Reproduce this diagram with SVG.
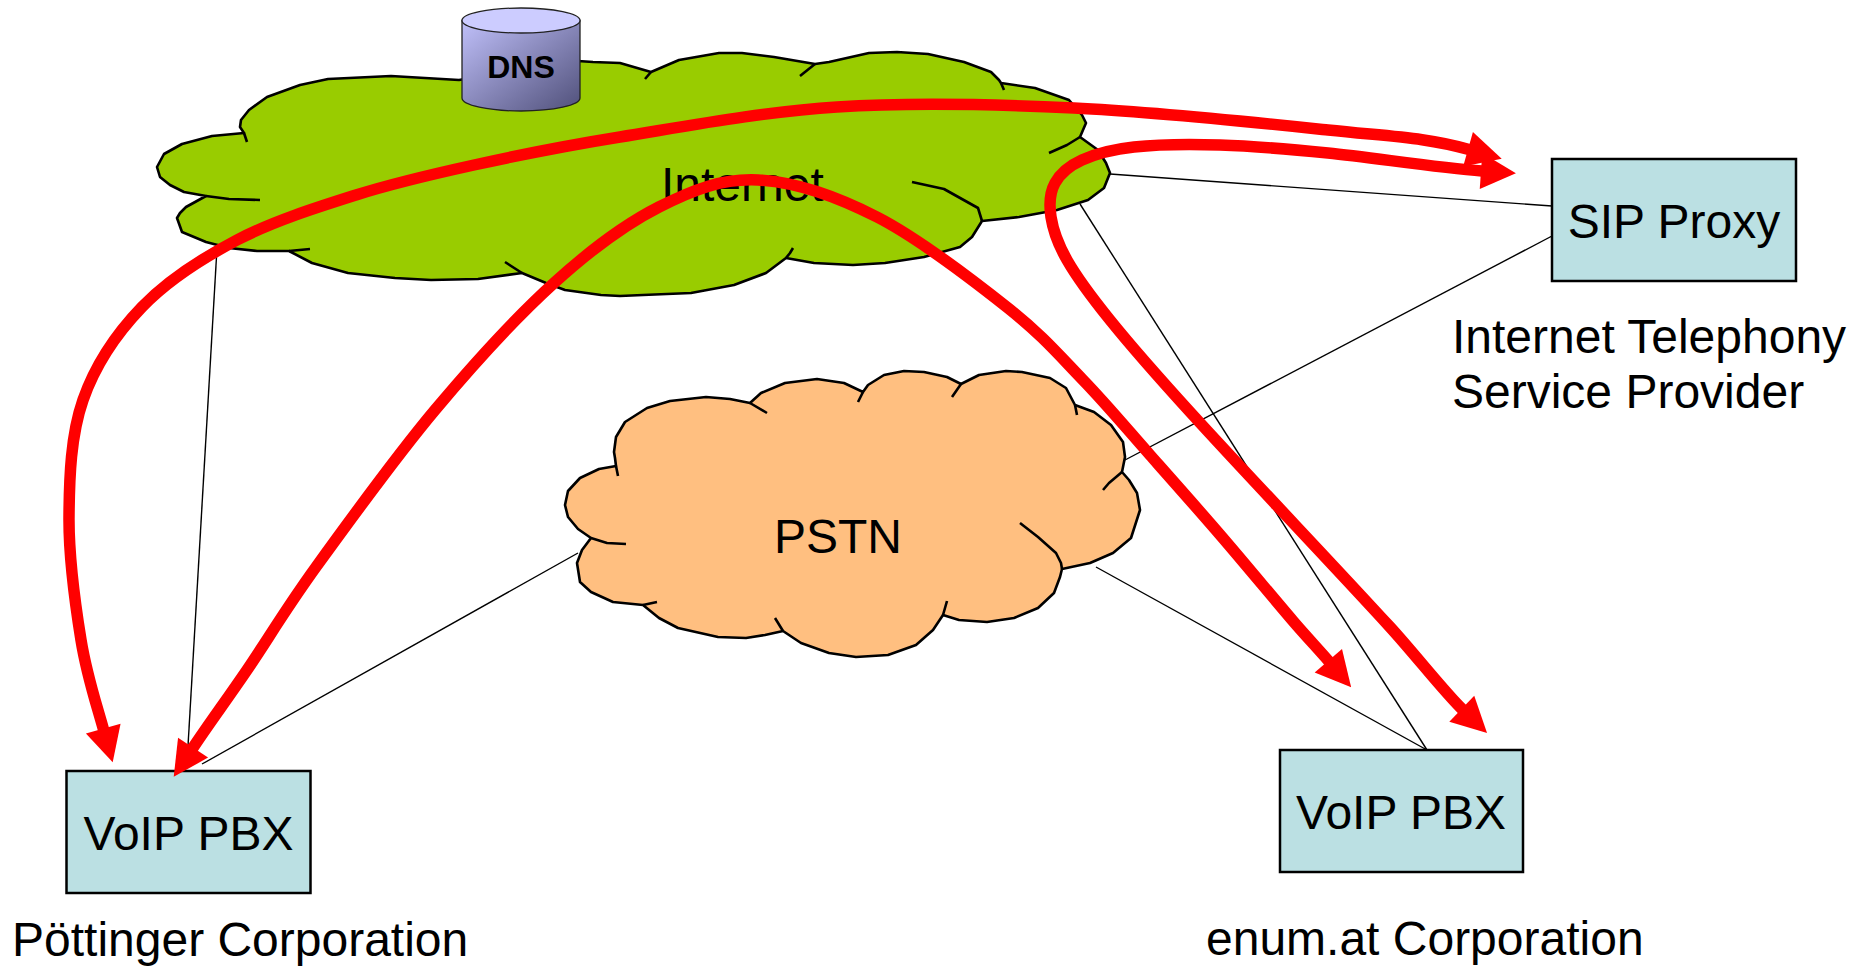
<svg xmlns="http://www.w3.org/2000/svg" width="1867" height="967" viewBox="0 0 1867 967">
<style>
.cloud{stroke:#000;stroke-width:2.6;stroke-linejoin:round}
.tail{fill:none;stroke:#000;stroke-width:2.6;stroke-linejoin:round;stroke-linecap:butt}
.box{fill:#BBE0E3;stroke:#000;stroke-width:2.5}
.lbl{font-family:"Liberation Sans",Arial,sans-serif;font-size:48px;fill:#000}
.mid{text-anchor:middle}
.link{stroke:#000;stroke-width:1.4;fill:none}
.flow{stroke:#FF0000;stroke-width:11.5;fill:none;stroke-linejoin:round}
</style>
<defs>
<linearGradient id="dnsBody" x1="0" y1="0" x2="1" y2="1">
<stop offset="0" stop-color="#C0C0FA"/>
<stop offset="1" stop-color="#50507A"/>
</linearGradient>
<marker id="headEnd" markerUnits="userSpaceOnUse" viewBox="-2 -20 40 40" markerWidth="40" markerHeight="40" refX="1" refY="0" orient="auto">
<path d="M0,-18 L35,0 L0,18 Z" fill="#FF0000"/>
</marker>
<marker id="headStart" markerUnits="userSpaceOnUse" viewBox="-38 -20 40 40" markerWidth="40" markerHeight="40" refX="-1" refY="0" orient="auto">
<path d="M0,-18 L-35,0 L0,18 Z" fill="#FF0000"/>
</marker>
</defs>
<rect width="1867" height="967" fill="#FFFFFF"/>

<g id="internet">
<path class="cloud" fill="#99CC00" d="M157,167 L164,154 L182,144 L212,136 L244,133 L240,127 L241,120 L249,110 L267,97 L300,85 L328,79 L391,76 L459,80 L520,70 L578,61 L593,62 L620,63 L651,72 L679,60 L719,53 L742,53 L774,57 L815,64 L829,62 L869,53 L897,52 L928,54 L964,62 L991,72 L999,80 L1001,83 L1035,88 L1069,100 L1082,115 L1086,123 L1080,137 L1098,150 L1106,163 L1110,173 L1104,188 L1088,200 L1057,210 L1019,217 L982,221 L972,237 L960,247 L924,257 L885,263 L853,265 L814,263 L786,258 L766,273 L734,285 L691,293 L643,295 L620,296 L601,295 L565,290 L546,283 L522,273 L478,279 L431,280 L395,278 L348,273 L312,263 L289,251 L257,251 L229,248 L206,242 L182,232 L177,218 L180,213 L186,207 L206,196 L184,192 L170,185 L160,177 Z"/>
<path class="tail" d="M244,133 L247,142 M206,196 L229,199 L260,200 M289,251 L310,249 M522,273 L505,262 M786,258 L790,253 L793,248 M982,221 L978,208 L944,189 L912,182 M1080,137 L1067,145 L1049,153 M1001,83 L1004,90 M815,64 L800,76 M651,72 L645,79"/>
<text class="lbl" x="661" y="201">Internet</text>
</g>

<g id="dns">
<path d="M462,20.5 L462,98 A59,13 0 0 0 580,98 L580,20.5 Z" fill="url(#dnsBody)" stroke="#222" stroke-width="1.3"/>
<ellipse cx="521" cy="20.5" rx="59" ry="12.5" fill="#CCCCFF" stroke="#222" stroke-width="1.3"/>
<text x="521" y="78" text-anchor="middle" font-family="'Liberation Sans',Arial,sans-serif" font-size="32" font-weight="bold" fill="#000">DNS</text>
</g>

<g id="pstn">
<path class="cloud" fill="#FFBF80" d="M591,538 L578,529 L568,517 L565,505 L568,491 L580,478 L599,469 L616,466 L615,458 L614,452 L616,437 L625,422 L647,408 L670,401 L706,397 L730,399 L750,403 L761,393 L785,383 L817,379 L844,383 L863,392 L868,385 L884,375 L904,371 L924,372 L947,377 L961,384 L979,375 L1006,371 L1022,372 L1050,378 L1066,388 L1075,405 L1094,412 L1111,425 L1123,442 L1125,457 L1122,472 L1129,480 L1137,493 L1140,510 L1131,538 L1113,553 L1090,563 L1062,569 L1060,577 L1054,593 L1038,608 L1014,618 L987,622 L959,620 L943,615 L933,630 L916,645 L888,655 L856,657 L829,653 L801,643 L783,631 L765,635 L746,638 L718,637 L678,628 L659,618 L643,605 L613,602 L591,592 L580,582 L577,563 L582,550 Z"/>
<path class="tail" d="M616,466 L618,476 M591,538 L607,543 L626,544 M643,605 L657,602 M783,631 L775,618 M943,615 L947,601 M1062,569 L1061,563 L1056,553 L1038,537 L1020,523 M1122,472 L1109,483 L1103,490 M1075,405 L1077,415 M961,384 L952,397 M863,392 L858,402 M750,403 L767,413"/>
<text class="lbl mid" x="838" y="553">PSTN</text>
</g>

<g id="sip-proxy">
<rect class="box" x="1552" y="159" width="244" height="122"/>
<text class="lbl mid" x="1674" y="238">SIP Proxy</text>
<text class="lbl" x="1452" y="353">Internet Telephony</text>
<text class="lbl" x="1452" y="408">Service Provider</text>
</g>

<g id="pbx-poettinger">
<rect class="box" x="66.5" y="771" width="244" height="122"/>
<text class="lbl mid" x="188.5" y="850">VoIP PBX</text>
<text class="lbl" x="12" y="956">Pöttinger Corporation</text>
</g>

<g id="pbx-enum">
<rect class="box" x="1280" y="750" width="243" height="122"/>
<text class="lbl mid" x="1401" y="829">VoIP PBX</text>
<text class="lbl" x="1206" y="955">enum.at Corporation</text>
</g>

<g id="connectors">
<line class="link" x1="217" y1="248" x2="188" y2="746"/>
<line class="link" x1="578" y1="553" x2="202" y2="764"/>
<line class="link" x1="1110" y1="174" x2="1552" y2="206"/>
<line class="link" x1="1125" y1="460" x2="1552" y2="236"/>
<line class="link" x1="1080" y1="204" x2="1427" y2="750"/>
<line class="link" x1="1096" y1="567" x2="1427" y2="750"/>
<path class="flow" marker-start="url(#headStart)" marker-end="url(#headEnd)" d="M103.5,729.5 C94.5,697.5 86.75,675.4 81,640 C75.25,604.6 68.7,557 69,517 C69.3,477 70.8,435 83,400 C95.2,365 116.3,333.7 142,307 C167.7,280.3 201.3,258.7 237,240 C272.7,221.3 316.5,207.5 356,195 C395.5,182.5 430,174.7 474,165 C518,155.3 559.5,146.7 620,137 C680.5,127.3 761.3,111.8 837,107 C912.7,102.2 992.2,104.2 1074,108 C1155.8,111.8 1262.2,123.1 1328,130 C1393.8,136.9 1425.8,137.3 1469,149.5"/>
<path class="flow" marker-start="url(#headStart)" marker-end="url(#headEnd)" d="M192.5,748.5 C209,723.6 226.4,700.25 247,670 C267.6,639.75 284.7,610.3 316,567 C347.3,523.7 395.3,457.3 435,410 C474.7,362.7 516.7,316.8 554,283 C591.3,249.2 625,224.2 659,207 C693,189.8 721.7,178.3 758,180 C794.3,181.7 835.3,195.7 877,217 C918.7,238.3 973.7,280.8 1008,308 C1042.3,335.2 1059.3,355.5 1083,380 C1106.7,404.5 1126.8,428.8 1150,455 C1173.2,481.2 1198.2,509.3 1222,537 C1245.8,564.7 1275.2,600.25 1293,621 C1304.7,634.7 1319.9,650.9 1329,661.5"/>
<path class="flow" marker-start="url(#headStart)" marker-end="url(#headEnd)" d="M1482,171 C1437,167.9 1371.7,157.3 1328,153 C1284.3,148.7 1252.3,146 1220,145 C1187.7,144 1157,144.5 1134,147 C1111,149.5 1095.2,154 1082,160 C1068.8,166 1060.2,173.5 1055,183 C1049.8,192.5 1049,204.2 1051,217 C1053,229.8 1057.2,242.8 1067,260 C1076.8,277.2 1094.9,301.3 1110,320 C1135.8,352 1163.4,382.7 1191,413 C1256.4,484.7 1324.5,555.5 1390,627 C1414.3,653.5 1444.5,692.25 1462.5,709.5"/>
</g>
</svg>
